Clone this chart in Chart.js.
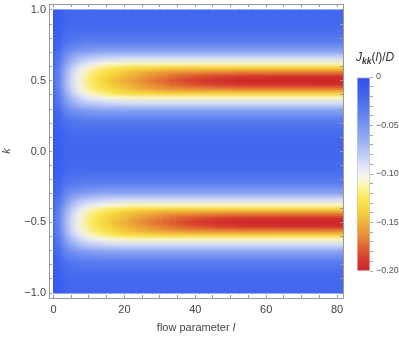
<!DOCTYPE html>
<html>
<head>
<meta charset="utf-8">
<script src="https://cdn.jsdelivr.net/npm/chart.js@4.4.1/dist/chart.umd.min.js"></script>
<style>
    html, body { margin: 0; padding: 0; background: #fff; }
    #wrap { position: relative; width: 399px; height: 342px; font-family: 'Liberation Sans', Arial, sans-serif; }
    #main { position: absolute; left: 0; top: 0; }
    #bar { position: absolute; left: 350px; top: 60px; }
    .label { position: absolute; color: #444; white-space: nowrap; }
    #xtitle { left: 0; width: 392px; text-align: center; top: 320px; font-size: 11px; line-height: 14px; }
    #cbtitle { left: 356px; top: 50px; font-size: 12px; line-height: 14px; color: #333; }
    #cbtitle sub { font-size: 8.5px; vertical-align: -3px; line-height: 0; }
</style>
</head>
<body>
<div id="wrap">
    <canvas id="main" width="399" height="342"></canvas>
    <canvas id="bar" width="49" height="220"></canvas>
    <div class="label" id="xtitle">flow parameter <i>l</i></div>
    <div class="label" id="cbtitle"><i>J</i><sub><b><i>kk</i></b></sub>(<i>l</i>)/<i>D</i></div>
</div>
<script>
// Density plot of J_kk(l)/D over flow parameter l and momentum k

// Flow parameter l at the centre of each column
const lColumns = [0.5, 1.5, 2.5, 3.5, 4.5, 5.5, 6.5, 7.5, 8.5, 9.5, 10.5, 11.5, 12.5, 13.5, 15, 17, 19, 21, 23, 25, 27, 29, 31, 33, 35, 37.5, 40, 42.5, 45, 48, 51, 54, 58, 62, 67, 72, 77, 81];

// Distance |k - k0| from the band centres
const bandDistance = [0, 0.03, 0.06, 0.09, 0.12, 0.16, 0.21, 0.28, 0.38, 0.5];
const bandCenters = [0.5, -0.5];

// J_kk(l)/D: one row per distance, one value per column
const jTable = [
    [-0.017, -0.038, -0.056, -0.070, -0.082, -0.091, -0.098, -0.104, -0.110, -0.116, -0.121, -0.125, -0.129, -0.132, -0.137, -0.143, -0.148, -0.153, -0.158, -0.162, -0.166, -0.170, -0.173, -0.176, -0.179, -0.183, -0.186, -0.189, -0.192, -0.194, -0.196, -0.198, -0.199, -0.200, -0.201, -0.201, -0.202, -0.202],
    [-0.017, -0.038, -0.055, -0.069, -0.081, -0.090, -0.097, -0.103, -0.109, -0.114, -0.119, -0.123, -0.127, -0.130, -0.135, -0.140, -0.145, -0.149, -0.153, -0.157, -0.161, -0.164, -0.167, -0.170, -0.173, -0.176, -0.179, -0.181, -0.183, -0.185, -0.187, -0.188, -0.189, -0.190, -0.191, -0.191, -0.192, -0.192],
    [-0.016, -0.037, -0.054, -0.067, -0.079, -0.088, -0.095, -0.101, -0.106, -0.111, -0.115, -0.119, -0.122, -0.125, -0.129, -0.134, -0.139, -0.143, -0.147, -0.150, -0.153, -0.155, -0.157, -0.159, -0.161, -0.162, -0.163, -0.164, -0.165, -0.166, -0.166, -0.167, -0.167, -0.167, -0.167, -0.167, -0.167, -0.167],
    [-0.015, -0.035, -0.051, -0.064, -0.075, -0.083, -0.090, -0.095, -0.100, -0.104, -0.108, -0.111, -0.114, -0.117, -0.120, -0.124, -0.127, -0.130, -0.132, -0.134, -0.135, -0.136, -0.137, -0.138, -0.138, -0.139, -0.139, -0.139, -0.139, -0.139, -0.139, -0.139, -0.139, -0.139, -0.139, -0.139, -0.139, -0.139],
    [-0.014, -0.032, -0.046, -0.058, -0.067, -0.075, -0.081, -0.086, -0.090, -0.093, -0.096, -0.098, -0.100, -0.102, -0.104, -0.106, -0.107, -0.108, -0.109, -0.110, -0.110, -0.110, -0.110, -0.110, -0.110, -0.110, -0.110, -0.110, -0.110, -0.110, -0.110, -0.110, -0.110, -0.110, -0.110, -0.110, -0.110, -0.110],
    [-0.013, -0.029, -0.041, -0.051, -0.059, -0.065, -0.070, -0.074, -0.077, -0.079, -0.081, -0.082, -0.083, -0.084, -0.085, -0.086, -0.087, -0.087, -0.087, -0.087, -0.087, -0.087, -0.087, -0.087, -0.087, -0.087, -0.087, -0.087, -0.087, -0.087, -0.087, -0.087, -0.087, -0.087, -0.087, -0.087, -0.087, -0.087],
    [-0.011, -0.024, -0.034, -0.041, -0.046, -0.049, -0.051, -0.053, -0.054, -0.055, -0.056, -0.057, -0.057, -0.058, -0.058, -0.058, -0.058, -0.058, -0.058, -0.058, -0.058, -0.058, -0.058, -0.058, -0.058, -0.058, -0.058, -0.058, -0.058, -0.058, -0.058, -0.058, -0.058, -0.058, -0.058, -0.058, -0.058, -0.058],
    [-0.009, -0.019, -0.025, -0.029, -0.031, -0.032, -0.033, -0.033, -0.034, -0.034, -0.034, -0.034, -0.034, -0.034, -0.034, -0.034, -0.034, -0.034, -0.034, -0.034, -0.034, -0.034, -0.034, -0.034, -0.034, -0.034, -0.034, -0.034, -0.034, -0.034, -0.034, -0.034, -0.034, -0.034, -0.034, -0.034, -0.034, -0.034],
    [-0.008, -0.016, -0.019, -0.021, -0.022, -0.022, -0.022, -0.022, -0.022, -0.022, -0.022, -0.022, -0.022, -0.022, -0.022, -0.022, -0.022, -0.022, -0.022, -0.022, -0.022, -0.022, -0.022, -0.022, -0.022, -0.022, -0.022, -0.022, -0.022, -0.022, -0.022, -0.022, -0.022, -0.022, -0.022, -0.022, -0.022, -0.022],
    [-0.008, -0.015, -0.018, -0.019, -0.020, -0.020, -0.020, -0.020, -0.020, -0.020, -0.020, -0.020, -0.020, -0.020, -0.020, -0.020, -0.020, -0.020, -0.020, -0.020, -0.020, -0.020, -0.020, -0.020, -0.020, -0.020, -0.020, -0.020, -0.020, -0.020, -0.020, -0.020, -0.020, -0.020, -0.020, -0.020, -0.020, -0.020]
];

// Axis ticks
const kTickValues = [-1, -0.5, 0, 0.5, 1];
const kTickLabels = ['\u22121.0', '\u22120.5', '0.0', '0.5', '1.0'];
const lTickValues = [0, 20, 40, 60, 80];
const lTickLabels = ['0', '20', '40', '60', '80'];
const cbTickValues = [0, -0.05, -0.10, -0.15, -0.20];
const cbTickLabels = ['0', '\u22120.05', '\u22120.10', '\u22120.15', '\u22120.20'];

// Colour scale (TemperatureMap-like), position 0 = J 0, position 1 = J -0.2
const jMin = -0.2;
const temperatureMap = [
    [0.00, [46, 78, 238]],
    [0.10, [66, 103, 238]],
    [0.20, [99, 133, 240]],
    [0.30, [140, 165, 243]],
    [0.40, [190, 203, 247]],
    [0.46, [225, 230, 250]],
    [0.51, [246, 246, 238]],
    [0.56, [252, 245, 170]],
    [0.62, [252, 234, 90]],
    [0.68, [248, 215, 62]],
    [0.75, [240, 180, 58]],
    [0.82, [232, 140, 55]],
    [0.88, [223, 95, 48]],
    [0.94, [213, 58, 44]],
    [1.00, [206, 36, 42]]
];

Chart.defaults.font.family = "'Liberation Sans', Arial, sans-serif";

function colorAt(t) {
    t = Math.min(1, Math.max(0, t));
    for (let i = 1; i < temperatureMap.length; i++) {
        const [t1, c1] = temperatureMap[i];
        if (t <= t1) {
            const [t0, c0] = temperatureMap[i - 1];
            const f = (t - t0) / (t1 - t0);
            const c = c0.map((v, n) => Math.round(v + (c1[n] - v) * f));
            return `rgb(${c[0]}, ${c[1]}, ${c[2]})`;
        }
    }
    const c = temperatureMap[temperatureMap.length - 1][1];
    return `rgb(${c[0]}, ${c[1]}, ${c[2]})`;
}

function colorFor(j) {
    return colorAt(j / jMin);
}

// Vertical gradient for one column, built from the column of jTable
const gradientCache = {};
function columnGradient(context) {
    const chart = context.chart;
    const i = context.dataIndex;
    if (!chart.chartArea || i === undefined) return colorFor(-0.02);
    const y = chart.scales.y;
    const top = y.getPixelForValue(1);
    const bottom = y.getPixelForValue(-1);
    const key = i + ':' + top + ':' + bottom;
    if (gradientCache[key]) return gradientCache[key];

    const stops = [];
    bandCenters.forEach(c => {
        bandDistance.forEach((d, r) => {
            [c + d, c - d].forEach(k => {
                if (k <= 1.0001 && k >= -1.0001) stops.push([k, jTable[r][i]]);
            });
        });
    });
    stops.sort((a, b) => b[0] - a[0]);

    const g = chart.ctx.createLinearGradient(0, top, 0, bottom);
    stops.forEach(([k, j]) => {
        const off = Math.min(1, Math.max(0, (y.getPixelForValue(k) - top) / (bottom - top)));
        g.addColorStop(off, colorFor(j));
    });
    gradientCache[key] = g;
    return g;
}

// Soften the steps between columns along l (horizontal running average)
const smoothColumns = {
    id: 'smoothColumns',
    afterDatasetsDraw(chart, args, opts) {
        if (!opts.radius) return;
        const { ctx, canvas } = chart;
        const left = Math.round(chart.scales.x.getPixelForValue(0));
        const right = Math.round(chart.chartArea.right);
        const top = Math.round(chart.scales.y.getPixelForValue(1));
        const bottom = Math.round(chart.scales.y.getPixelForValue(-1));
        const w = right - left, h = bottom - top;
        const snap = document.createElement('canvas');
        snap.width = w;
        snap.height = h;
        snap.getContext('2d').drawImage(canvas, left, top, w, h, 0, 0, w, h);
        ctx.save();
        ctx.setTransform(1, 0, 0, 1, 0, 0);
        ctx.beginPath();
        ctx.rect(left, top, w, h);
        ctx.clip();
        let n = 1;
        for (let dx = -opts.radius; dx <= opts.radius; dx++) {
            if (dx === 0) continue;
            n++;
            ctx.globalAlpha = 1 / n;
            ctx.drawImage(snap, left + dx, top);
        }
        ctx.restore();
    }
};

function labelFrom(values, labels) {
    return (value) => {
        const idx = values.findIndex(v => Math.abs(v - value) < 1e-6);
        return idx >= 0 ? labels[idx] : '';
    };
}

function stepTicks(from, to, step) {
    const ticks = [];
    const n = Math.round((to - from) / step);
    for (let i = 0; i <= n; i++) ticks.push({ value: +(from + i * step).toFixed(4) });
    return ticks;
}

// Fixed box sizes so the frame sits where the reference has it
function fixBox(size) {
    return (s) => {
        if (s.isHorizontal()) s.height = size; else s.width = size;
        s.paddingTop = s.paddingBottom = s.paddingLeft = s.paddingRight = 0;
    };
}

const frameGrid = { drawOnChartArea: false, color: '#999', tickLength: -3, z: 1 };
const frameBorder = { display: true, color: '#999', width: 1, z: 2 };
const lRange = { min: -1.27, max: 81.69 };
const kRange = { min: -1.035, max: 1.042 };

new Chart(document.getElementById('main'), {
    type: 'bar',
    data: {
        datasets: [{
            data: lColumns.map(l => ({ x: l, y: [-1, 1] })),
            backgroundColor: columnGradient,
            borderWidth: 0,
            barThickness: 'flex',
            categoryPercentage: 1,
            barPercentage: 1,
            inflateAmount: 0.5,
            xAxisID: 'x',
            yAxisID: 'y'
        }]
    },
    plugins: [smoothColumns],
    options: {
        responsive: false,
        animation: false,
        events: [],
        layout: { padding: 0, autoPadding: false },
        plugins: {
            legend: { display: false },
            tooltip: { enabled: false },
            smoothColumns: { radius: 5 }
        },
        scales: {
            x: {
                type: 'linear', axis: 'x', position: 'bottom', ...lRange, offset: false,
                grid: { ...frameGrid, offset: false },
                border: frameBorder,
                afterBuildTicks: s => { s.ticks = stepTicks(0, 80, 5); },
                afterFit: fixBox(44),
                ticks: { autoSkip: false, maxRotation: 0, minRotation: 0, padding: 8, color: '#444', font: { size: 11 }, callback: labelFrom(lTickValues, lTickLabels) }
            },
            x2: {
                type: 'linear', axis: 'x', position: 'top', ...lRange, offset: false,
                grid: { ...frameGrid, offset: false },
                border: frameBorder,
                afterBuildTicks: s => { s.ticks = stepTicks(0, 80, 5); },
                afterFit: fixBox(4),
                ticks: { autoSkip: false, maxRotation: 0, minRotation: 0, callback: () => '' }
            },
            y: {
                type: 'linear', axis: 'y', position: 'left', ...kRange,
                grid: frameGrid,
                border: frameBorder,
                afterBuildTicks: s => { s.ticks = stepTicks(-1, 1, 0.1); },
                afterFit: fixBox(49),
                title: { display: true, text: 'k', color: '#444', padding: 0, font: { size: 11, style: 'italic' } },
                ticks: { autoSkip: false, padding: 6, color: '#444', font: { size: 11 }, callback: labelFrom(kTickValues, kTickLabels) }
            },
            y2: {
                type: 'linear', axis: 'y', position: 'right', ...kRange,
                grid: frameGrid,
                border: frameBorder,
                afterBuildTicks: s => { s.ticks = stepTicks(-1, 1, 0.1); },
                afterFit: fixBox(56),
                ticks: { autoSkip: false, callback: () => '' }
            }
        }
    }
});

// Colour bar legend
function barGradient(context) {
    const chart = context.chart;
    if (!chart.chartArea) return colorFor(-0.1);
    const y = chart.scales.y;
    const top = y.getPixelForValue(0);
    const bottom = y.getPixelForValue(jMin);
    const g = chart.ctx.createLinearGradient(0, top, 0, bottom);
    temperatureMap.forEach(([t, c]) => g.addColorStop(t, `rgb(${c[0]}, ${c[1]}, ${c[2]})`));
    return g;
}

new Chart(document.getElementById('bar'), {
    type: 'bar',
    data: {
        labels: [''],
        datasets: [{
            data: [[jMin, 0]],
            backgroundColor: barGradient,
            borderColor: '#c8c8c8',
            borderWidth: 1,
            borderSkipped: false,
            categoryPercentage: 1,
            barPercentage: 1
        }]
    },
    options: {
        responsive: false,
        animation: false,
        events: [],
        layout: { padding: { left: 7, top: 17, bottom: 9, right: 0 }, autoPadding: false },
        plugins: {
            legend: { display: false },
            tooltip: { enabled: false }
        },
        scales: {
            x: { display: false },
            y: {
                position: 'right', min: jMin, max: 0,
                grid: { drawOnChartArea: false, color: '#aaa', tickLength: 3 },
                border: { display: false },
                afterBuildTicks: s => { s.ticks = stepTicks(jMin, 0, 0.01); },
                afterFit: fixBox(29),
                ticks: { autoSkip: false, padding: 3, color: '#555', font: { size: 9 }, callback: labelFrom(cbTickValues, cbTickLabels) }
            }
        }
    }
});
</script>
</body>
</html>
